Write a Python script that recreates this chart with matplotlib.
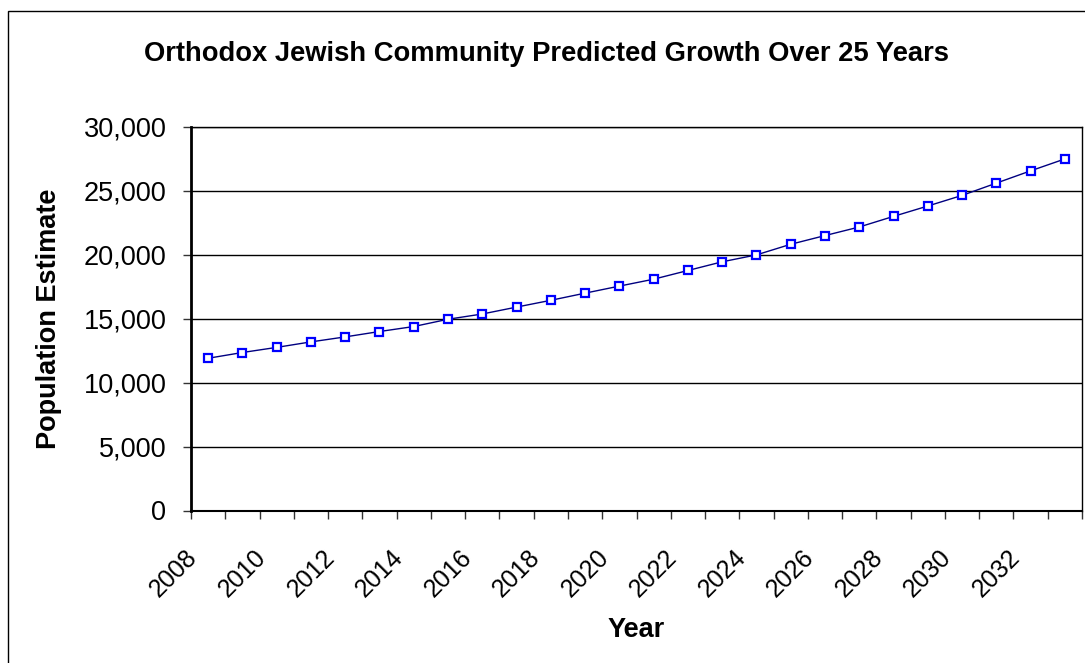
import numpy as np
import matplotlib
matplotlib.use('Agg')
import matplotlib.pyplot as plt
import matplotlib.transforms as mtransforms
from matplotlib.ticker import FuncFormatter
from matplotlib.patches import Rectangle

# ---- data ----
years = [2008, 2009, 2010, 2011, 2012, 2013, 2014, 2015, 2016, 2017, 2018, 2019, 2020,
         2021, 2022, 2023, 2024, 2025, 2026, 2027, 2028, 2029, 2030, 2031, 2032, 2033]
population = [11900, 12350, 12750, 13180, 13570, 13990, 14380, 14950, 15360, 15900,
              16430, 16990, 17540, 18080, 18760, 19440, 19980, 20810, 21490, 22160,
              22990, 23800, 24630, 25590, 26550, 27480]
y_ticks = [0, 5000, 10000, 15000, 20000, 25000, 30000]
title = "Orthodox Jewish Community Predicted Growth Over 25 Years"
x_label = "Year"
y_label = "Population Estimate"

plt.rcParams['font.family'] = ['Liberation Sans', 'DejaVu Sans']

W, H = 1085, 663
fig = plt.figure(figsize=(W / 100, H / 100), dpi=100)
fig.patch.set_facecolor('white')

# outer chart-area border
fig.add_artist(Rectangle((8 / W, -0.05), 1.1, (1 - 11 / H) + 0.05,
                         transform=fig.transFigure, fill=False, ec='black', lw=1.0))

left, right, top, bottom = 191, 1082, 126.7, 510.5
ax = fig.add_axes([left / W, 1 - bottom / H, (right - left) / W, (bottom - top) / H])

x = np.arange(len(years))
ax.plot(x, population, color='#000080', lw=1.0, marker='s', ms=5.5,
        mfc='white', mec='#0000FF', mew=1.6, zorder=3, clip_on=False)

ax.set_xlim(-0.5, len(years) - 0.5)
ax.set_ylim(y_ticks[0], y_ticks[-1])
ax.set_yticks(y_ticks)
ax.yaxis.set_major_formatter(FuncFormatter(lambda v, p: f'{int(v):,}'))
ax.grid(axis='y', color='black', lw=1.0)
ax.set_axisbelow(True)

for s in ax.spines.values():
    s.set_color('black')
    s.set_linewidth(1.0)
ax.spines['left'].set_linewidth(2.0)
ax.spines['bottom'].set_linewidth(1.5)

# tick marks at category boundaries
ax.set_xticks(np.arange(-0.5, len(years)))
ax.tick_params(axis='x', which='major', length=8 * 0.72, width=1.0, color='#333333',
               direction='out', labelbottom=False)
# labels at centres of every other category
ax.set_xticks(x[::2], minor=True)
ax.set_xticklabels([str(y) for y in years[::2]], minor=True, rotation=45,
                   ha='right', va='top', fontsize=18)
ax.tick_params(axis='x', which='minor', length=0, pad=34.5 * 0.72)
offset = mtransforms.ScaledTranslation(-6 / 100, 0, fig.dpi_scale_trans)
for lab in ax.get_xticklabels(minor=True):
    lab.set_transform(lab.get_transform() + offset)

ax.tick_params(axis='y', length=8 * 0.72, width=1.0, color='#333333',
               pad=16.5 * 0.72, labelsize=19.5)

fig.text(546.5 / W, 1 - 61 / H, title, ha='center', va='baseline',
         fontsize=19.7, fontweight='bold')
fig.text(636.5 / W, 1 - 637 / H, x_label, ha='center', va='baseline',
         fontsize=19.5, fontweight='bold')
fig.text(49.5 / W, 1 - 318.6 / H, y_label, ha='center', va='center',
         rotation=90, fontsize=19.5, fontweight='bold')

fig.savefig('out.png', dpi=100)
